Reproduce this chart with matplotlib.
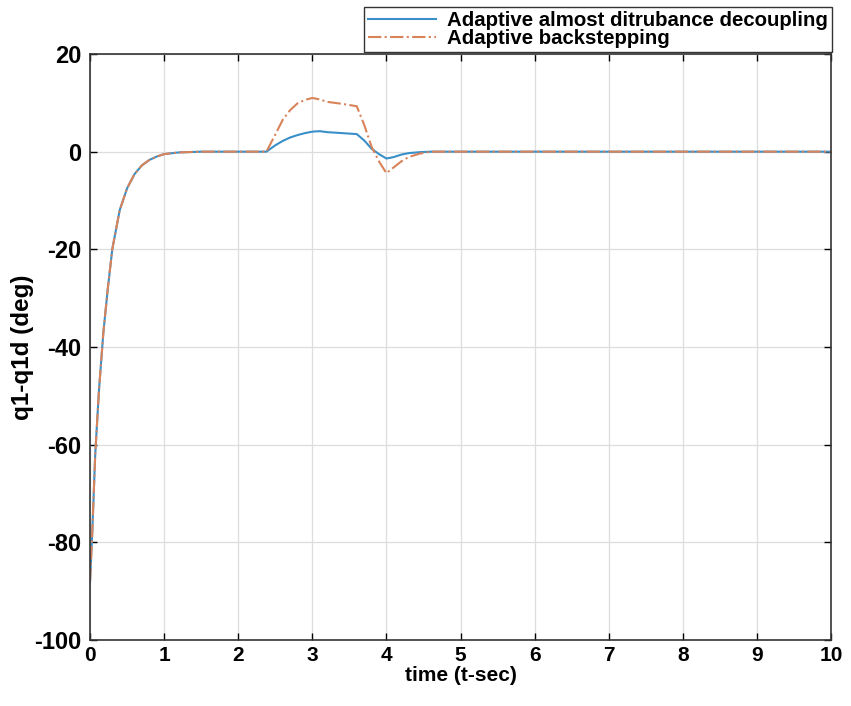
import numpy as np
import matplotlib.pyplot as plt

# time points (s) and tracking error (deg)
t = [0, 0.03, 0.07, 0.12, 0.18, 0.24, 0.30, 0.40, 0.50, 0.60, 0.70, 0.80, 0.90, 1.00,
     1.20, 1.50, 2.00, 2.38, 2.50, 2.60, 2.70, 2.80, 2.90, 3.00, 3.10, 3.20, 3.40,
     3.60, 3.70, 3.80, 3.90, 4.00, 4.10, 4.20, 4.30, 4.45, 4.60, 5.00, 7.00, 10.00]

e_add = [-88, -78, -62, -49, -37, -28, -20, -12, -7.5, -4.6, -2.8, -1.7, -1.0, -0.5,
         -0.15, 0, 0, 0, 1.3, 2.2, 2.9, 3.4, 3.8, 4.1, 4.2, 4.0, 3.8,
         3.6, 2.3, 0.6, -0.5, -1.4, -1.1, -0.6, -0.3, -0.1, 0, 0, 0, 0]

e_bs = [-88, -78, -62, -49, -37, -28, -20, -12, -7.5, -4.6, -2.8, -1.7, -1.0, -0.5,
        -0.15, 0, 0, 0, 3.5, 6.5, 8.5, 9.9, 10.6, 11.0, 10.7, 10.2, 9.8,
        9.3, 5.5, 1.0, -2.0, -4.4, -3.2, -2.0, -1.1, -0.4, 0, 0, 0, 0]

plt.rcParams['font.family'] = ['Liberation Sans', 'DejaVu Sans']
plt.rcParams['font.weight'] = 'bold'
plt.rcParams['axes.unicode_minus'] = False

fig = plt.figure(figsize=(8.51, 7.06), dpi=100)
ax = fig.add_axes([0.1058, 0.0935, 0.8707, 0.83])

l1, = ax.plot(t, e_add, color='#3a8fc8', lw=1.5, label='Adaptive almost ditrubance decoupling')
l2, = ax.plot(t, e_bs, color='#d9835a', lw=1.5, linestyle='-.', label='Adaptive backstepping')

ax.set_xlim(0, 10)
ax.set_ylim(-100, 20)
ax.set_xticks(range(0, 11))
ax.set_yticks(range(-100, 21, 20))
ax.grid(True, color='#dddddd', lw=0.9)
ax.tick_params(direction='in', top=True, right=True, length=5, width=1)
ax.tick_params(axis='x', labelsize=15, pad=4)
ax.tick_params(axis='y', labelsize=17, pad=6)
for lab in ax.get_xticklabels() + ax.get_yticklabels():
    lab.set_fontweight('bold')
for s in ax.spines.values():
    s.set_color('#333333')
    s.set_linewidth(1.2)

ax.set_xlabel('time (t-sec)', fontsize=15, fontweight='bold', labelpad=1)
ax.set_ylabel('q1-q1d (deg)', fontsize=17.5, fontweight='bold', labelpad=0)

fig.legend(handles=[l1, l2], loc='upper right', bbox_to_anchor=(0.9777, 0.990),
           borderaxespad=0, prop={'weight': 'bold', 'size': 14.7}, labelspacing=-0.05,
           handlelength=3.3, handletextpad=0.55, borderpad=0.2, fancybox=False,
           edgecolor='#333333', framealpha=1)

fig.savefig('out.png', dpi=100)
